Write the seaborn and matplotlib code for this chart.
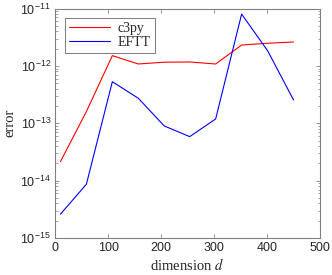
import numpy as np
import pandas as pd
import seaborn as sns
from matplotlib import pyplot as plt
from matplotlib.ticker import LogLocator, NullFormatter

dims = [10, 59, 108, 157, 206, 254, 303, 352, 401, 450]
err_c3py = [2.14e-14, 1.6e-13, 1.51e-12, 1.08e-12, 1.16e-12, 1.17e-12, 1.08e-12, 2.31e-12, 2.48e-12, 2.61e-12]
err_eftt = [2.6e-15, 8.65e-15, 5.3e-13, 2.73e-13, 8.98e-14, 5.85e-14, 1.19e-13, 8.0e-12, 1.84e-12, 2.55e-13]
methods = ["c3py", "EFTT"]
x_ticks = [0, 100, 200, 300, 400, 500]
y_ticks = [1e-15, 1e-14, 1e-13, 1e-12, 1e-11]

df = pd.DataFrame({
    "dimension": dims * 2,
    "error": err_c3py + err_eftt,
    "method": [methods[0]] * len(dims) + [methods[1]] * len(dims),
})

sns.set_style("ticks")
plt.rcParams["font.family"] = ["Liberation Sans", "DejaVu Sans"]
plt.rcParams["mathtext.fontset"] = "stix"

fig = plt.figure(figsize=(3.32, 2.75), dpi=100)
ax = fig.add_axes([0.166, 0.1345, 0.798, 0.8345])

sns.lineplot(data=df, x="dimension", y="error", hue="method",
             palette={"c3py": "#ff0000", "EFTT": "#0000ff"},
             linewidth=0.8, ax=ax)

ax.set_yscale("log")
ax.set_xlim(0, 500)
ax.set_ylim(1e-15, 1e-11)
ax.set_xticks(x_ticks)
ax.set_yticks(y_ticks)
ax.yaxis.set_minor_locator(LogLocator(base=10, subs=np.arange(2, 10), numticks=10))
ax.yaxis.set_minor_formatter(NullFormatter())

for side in ["top", "right", "left", "bottom"]:
    ax.spines[side].set_visible(True)
    ax.spines[side].set_color("#808080")
    ax.spines[side].set_linewidth(0.8)
ax.tick_params(which="both", direction="in", top=True, right=True,
               color="#808080", labelsize=9, labelcolor="#262626")
ax.tick_params(which="major", length=3, width=0.6, pad=3)
ax.tick_params(which="minor", length=1.8, width=0.5)

ax.set_xlabel("dimension $d$", family="Liberation Serif", fontsize=10.5, labelpad=2)
ax.set_ylabel("error", family="Liberation Serif", fontsize=10.5, labelpad=3)

leg = ax.legend(loc="upper left", bbox_to_anchor=(0.036, 0.96), frameon=True,
                fancybox=False, prop={"family": "Liberation Serif", "size": 10},
                handlelength=3.0, borderpad=0.3, labelspacing=0.1, handletextpad=0.5,
                borderaxespad=0)
leg.get_frame().set_edgecolor("#404040")
leg.get_frame().set_linewidth(0.6)

fig.savefig("out.png", dpi=100)
